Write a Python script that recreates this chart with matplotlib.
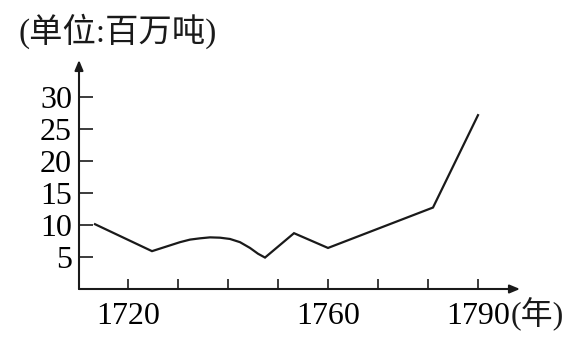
import matplotlib
matplotlib.use('Agg')
import matplotlib.pyplot as plt

plt.rcParams['font.family'] = ['Liberation Serif', 'Noto Sans CJK SC', 'DejaVu Sans']

# coal output, millions of tons
years = [1713.4, 1724.8, 1726.4, 1728.4, 1730.4, 1732.4, 1734.4, 1736.4, 1738.4,
         1740.4, 1742.4, 1744.4, 1746.0, 1747.4, 1753.2, 1760, 1781, 1790]
output = [10.1, 5.9, 6.3, 6.8, 7.3, 7.7, 7.9, 8.05, 8.0,
          7.8, 7.3, 6.4, 5.5, 4.9, 8.7, 6.4, 12.7, 27.1]

x_ticks = [1720, 1730, 1740, 1750, 1760, 1770, 1780, 1790]
x_labels = ['1720', '', '', '', '1760', '', '', '1790']
y_ticks = [5, 10, 15, 20, 25, 30]

fig = plt.figure(figsize=(5.85, 3.55), dpi=100)
ax = fig.add_axes([79 / 585, 66 / 355, 441 / 585, 229 / 355])
ax.set_xlim(1710.2, 1798.4)
ax.set_ylim(0, 35.7)

ax.plot(years, output, color='#1a1a1a', lw=1.6, solid_joinstyle='miter')

for s in ax.spines.values():
    s.set_visible(False)

# axes with arrow heads
arrow = dict(arrowstyle='-|>,head_length=0.6,head_width=0.25', color='#1a1a1a', lw=1.5,
             shrinkA=0, shrinkB=0)
ax.annotate('', xy=(1, 0), xytext=(0, 0), xycoords='axes fraction', arrowprops=arrow,
            annotation_clip=False)
ax.annotate('', xy=(0, 1), xytext=(0, 0), xycoords='axes fraction', arrowprops=arrow,
            annotation_clip=False)

ax.set_xticks(x_ticks)
ax.set_xticklabels(x_labels)
ax.set_yticks(y_ticks)
ax.tick_params(axis='x', direction='in', length=7, width=1.2, pad=9, labelsize=23,
               color='#1a1a1a')
ax.tick_params(axis='y', direction='in', length=10, width=1.2, pad=5, labelsize=23,
               color='#1a1a1a')

fig.text(18 / 585, 1 - 31 / 355, '(单位:百万吨)', fontsize=24, ha='left', va='center',
         color='#1a1a1a')
fig.text(511 / 585, 1 - 314 / 355, '(年)', fontsize=23, ha='left', va='center',
         color='#1a1a1a')

plt.savefig('out.png', dpi=100)
